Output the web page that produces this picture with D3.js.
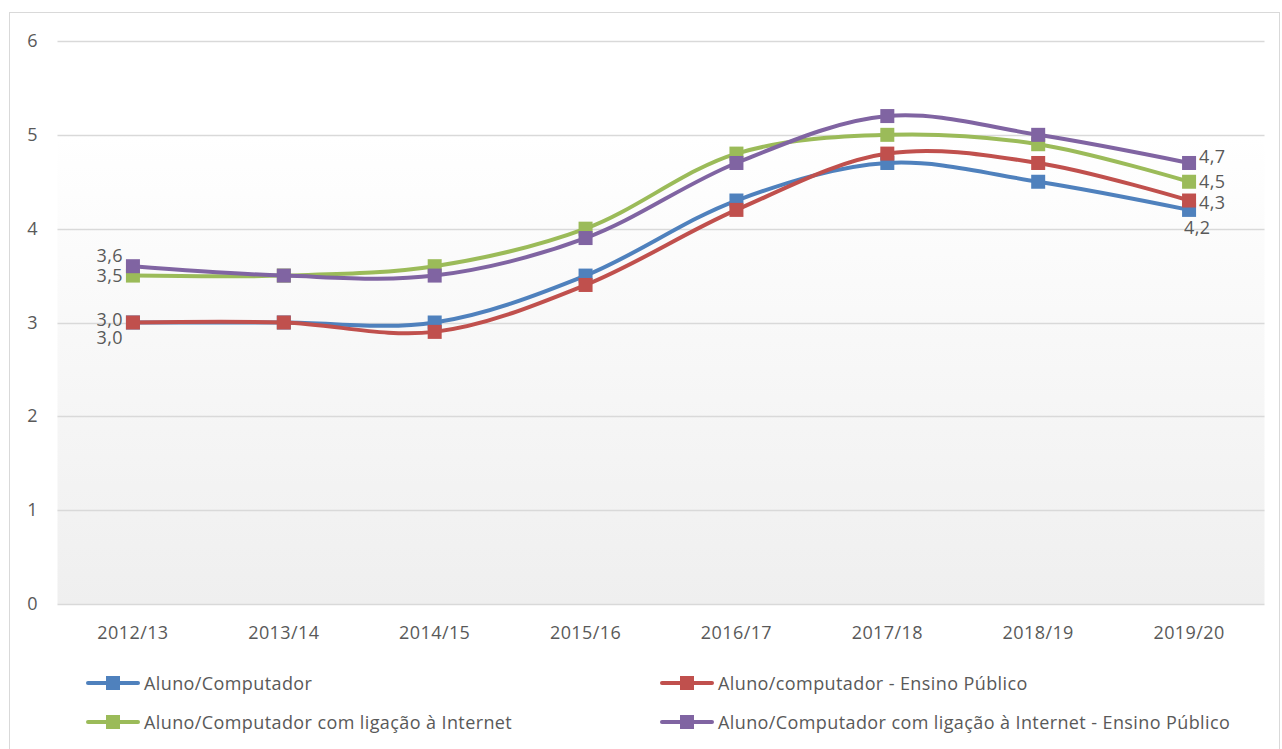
<!DOCTYPE html>
<html>
<head>
<meta charset="utf-8">
<script src="https://cdn.jsdelivr.net/npm/d3@7"></script>
<style>
body { margin: 0; background: white; }
text { font-family: "Open Sans", "Noto Sans", sans-serif; fill: #595959; letter-spacing: 0.4px; }
</style>
</head>
<body>
<svg></svg>
<script>
var w = 1282
var h = 749

var years = ["2012/13", "2013/14", "2014/15", "2015/16", "2016/17", "2017/18", "2018/19", "2019/20"]
var yTicks = [0, 1, 2, 3, 4, 5, 6]

var names = ["Aluno/Computador", "Aluno/computador - Ensino Público",
	"Aluno/Computador com ligação à Internet", "Aluno/Computador com ligação à Internet - Ensino Público"]
var colors = ["#4F81BD", "#C0504D", "#9BBB59", "#8064A2"]

var alunoComp = [3.0, 3.0, 3.0, 3.5, 4.3, 4.7, 4.5, 4.2]
var alunoCompPub = [3.0, 3.0, 2.9, 3.4, 4.2, 4.8, 4.7, 4.3]
var alunoNet = [3.5, 3.5, 3.6, 4.0, 4.8, 5.0, 4.9, 4.5]
var alunoNetPub = [3.6, 3.5, 3.5, 3.9, 4.7, 5.2, 5.0, 4.7]

var series = [alunoComp, alunoCompPub, alunoNet, alunoNetPub]

// label offsets for first / last points (dx, dy)
var firstLab = [[-10, 15], [-10, -3], [-10, 0], [-10, -10]]
var lastLab = [[-5, 18], [10, 2], [10, 0], [10, -6]]

var svg = d3.select("svg")
	.attr("width", w)
	.attr("height", h)

var defs = svg.append("defs")
var grad = defs.append("linearGradient")
	.attr("id", "bg")
	.attr("x1", 0).attr("y1", 0).attr("x2", 0).attr("y2", 1)
grad.append("stop").attr("offset", "0%").attr("stop-color", "#ffffff")
grad.append("stop").attr("offset", "100%").attr("stop-color", "#efefef")

// outer border
svg.append("rect")
	.attr("x", 9.5).attr("y", 12.5)
	.attr("width", 1270).attr("height", 760)
	.attr("fill", "white")
	.attr("stroke", "#d9d9d9")

var pLeft = 57.5, pRight = 1264.5, pTop = 41, pBottom = 604

var x = d3.scalePoint()
	.domain(years)
	.range([pLeft, pRight])
	.padding(0.5)

var y = d3.scaleLinear()
	.domain([0, 6])
	.range([pBottom, pTop])

svg.append("rect")
	.attr("x", pLeft).attr("y", y(5))
	.attr("width", pRight - pLeft).attr("height", pBottom - y(5))
	.attr("fill", "url(#bg)")

// gridlines
svg.append("g")
	.selectAll("line")
	.data(yTicks)
	.join("line")
	.attr("x1", pLeft).attr("x2", pRight)
	.attr("y1", function(d){ return Math.round(y(d)) + 0.5 })
	.attr("y2", function(d){ return Math.round(y(d)) + 0.5 })
	.attr("stroke", "#d9d9d9")
	.attr("stroke-width", 1.3)

svg.append("g")
	.selectAll("text")
	.data(yTicks)
	.join("text")
	.attr("x", 38)
	.attr("y", function(d){ return y(d) + 6 })
	.attr("text-anchor", "end")
	.style("font-size", "18px")
	.text(function(d){ return d })

svg.append("g")
	.selectAll("text")
	.data(years)
	.join("text")
	.attr("x", function(d){ return x(d) })
	.attr("y", 639)
	.attr("text-anchor", "middle")
	.style("font-size", "18px")
	.text(function(d){ return d })

var line = d3.line()
	.x(function(d, i){ return x(years[i]) })
	.y(function(d){ return y(d) })
	.curve(d3.curveCatmullRom.alpha(0.5))

var fmt = function(v){ return v.toFixed(1).replace(".", ",") }

series.forEach(function(s, k){
	var g = svg.append("g")
	g.append("path")
		.attr("d", line(s))
		.attr("fill", "none")
		.attr("stroke", colors[k])
		.attr("stroke-width", 4)
		.attr("stroke-linecap", "round")

	g.selectAll("rect")
		.data(s)
		.join("rect")
		.attr("x", function(d, i){ return x(years[i]) - 7 })
		.attr("y", function(d){ return y(d) - 7 })
		.attr("width", 14)
		.attr("height", 14)
		.attr("fill", colors[k])

	g.append("text")
		.attr("x", x(years[0]) + firstLab[k][0])
		.attr("y", y(s[0]) + 6 + firstLab[k][1])
		.attr("text-anchor", "end")
		.style("font-size", "18px")
		.text(fmt(s[0]))

	var n = s.length - 1
	g.append("text")
		.attr("x", x(years[n]) + lastLab[k][0])
		.attr("y", y(s[n]) + 6 + lastLab[k][1])
		.attr("text-anchor", "start")
		.style("font-size", "18px")
		.text(fmt(s[n]))
})

// legend
var legPos = [[86, 683], [660, 683], [86, 722], [660, 722]]

var leg = svg.append("g")
	.selectAll("g")
	.data(names)
	.join("g")
	.attr("transform", function(d, i){ return "translate(" + legPos[i][0] + "," + legPos[i][1] + ")" })

leg.append("line")
	.attr("x1", 2).attr("x2", 52)
	.attr("stroke", function(d, i){ return colors[i] })
	.attr("stroke-width", 4)
	.attr("stroke-linecap", "round")

leg.append("rect")
	.attr("x", 20).attr("y", -7)
	.attr("width", 14).attr("height", 14)
	.attr("fill", function(d, i){ return colors[i] })

leg.append("text")
	.attr("x", 58)
	.attr("y", 7)
	.style("font-size", "18px")
	.text(function(d){ return d })
</script>
</body>
</html>
